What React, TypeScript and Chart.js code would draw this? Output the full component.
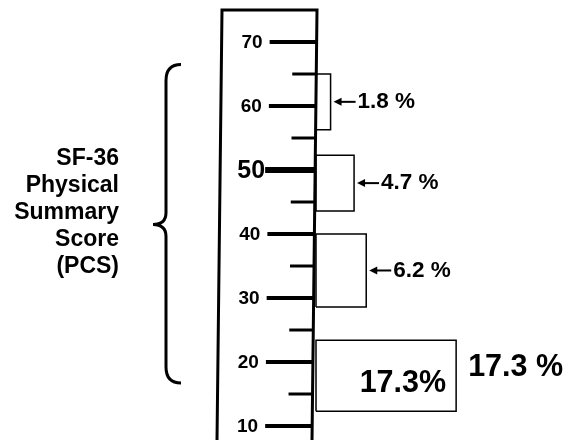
import React, { useEffect, useRef } from 'react';
import { Chart, registerables } from 'chart.js';

Chart.register(...registerables);

// ---- data ----
const boxLow = [56.3, 43.6, 28.6, 12.3];
const boxHigh = [65, 52.3, 40, 23.4];
const boxPct = [1.8, 4.7, 6.2, 17.3];
const boxLabelStyle = ['arrow', 'arrow', 'arrow', 'big'];
const majorTicks = [10, 20, 30, 40, 50, 60, 70];
const emphasisTick = 50;
const minorTicks = [15, 25, 35, 45, 55, 65];
const axisLabelLines = ['SF-36', 'Physical', 'Summary', 'Score', '(PCS)'];
const rulerTop = 75;
const braceRange = [66.5, 41.5, 16.7];

const FONT = '"Liberation Sans", Arial, sans-serif';

const rulerPlugin = {
  id: 'rulerPlugin',
  afterDraw(chart: any) {
    const { ctx } = chart;
    const ys = chart.scales.y;
    const xs = chart.scales.x;
    const H = chart.height;
    const topPx = ys.getPixelForValue(rulerTop);
    const x0 = xs.getPixelForValue(0);
    // slight slant of the scanned ruler
    const rightAt = (py: number) => x0 + 1 - (5 * (py - topPx)) / (H - topPx);
    const leftAt = (py: number) => x0 - 94 - (5 * (py - topPx)) / (H - topPx);

    ctx.save();
    ctx.strokeStyle = '#000';
    ctx.fillStyle = '#000';
    ctx.lineCap = 'butt';
    // ruler body
    ctx.lineWidth = 3;
    ctx.beginPath();
    ctx.moveTo(leftAt(H), H);
    ctx.lineTo(leftAt(topPx), topPx);
    ctx.lineTo(rightAt(topPx), topPx);
    ctx.lineTo(rightAt(H), H);
    ctx.stroke();

    // major ticks + labels
    majorTicks.forEach((v) => {
      const py = ys.getPixelForValue(v);
      const xr = rightAt(py);
      const big = v === emphasisTick;
      ctx.lineWidth = big ? 6 : 4;
      ctx.beginPath();
      ctx.moveTo(xr - (big ? 50 : 47), py);
      ctx.lineTo(xr, py);
      ctx.stroke();
      ctx.font = `bold ${big ? 25 : 19}px ${FONT}`;
      ctx.textAlign = 'right';
      ctx.textBaseline = 'middle';
      ctx.fillText(String(v), xr - (big ? 50 : 54), py + 1);
    });
    // minor ticks
    minorTicks.forEach((v) => {
      const py = ys.getPixelForValue(v);
      const xr = rightAt(py);
      ctx.lineWidth = 3;
      ctx.beginPath();
      ctx.moveTo(xr - 24, py);
      ctx.lineTo(xr, py);
      ctx.stroke();
    });

    // brace
    const [bt, bm, bb] = braceRange.map((v) => ys.getPixelForValue(v));
    const xTip = 153, xMain = 166, xEnd = 181;
    ctx.lineWidth = 3;
    ctx.beginPath();
    ctx.moveTo(xEnd, bt);
    ctx.quadraticCurveTo(xMain, bt, xMain, bt + 16);
    ctx.lineTo(xMain, bm - 12);
    ctx.quadraticCurveTo(xMain, bm, xTip, bm);
    ctx.quadraticCurveTo(xMain, bm, xMain, bm + 12);
    ctx.lineTo(xMain, bb - 16);
    ctx.quadraticCurveTo(xMain, bb, xEnd, bb);
    ctx.stroke();

    // axis title
    ctx.font = `bold 23px ${FONT}`;
    ctx.textAlign = 'right';
    ctx.textBaseline = 'middle';
    axisLabelLines.forEach((t, i) => {
      ctx.fillText(t, 119, 159 + i * 27);
    });

    // percent labels
    boxPct.forEach((p, i) => {
      const xr = xs.getPixelForValue(p);
      if (boxLabelStyle[i] === 'arrow') {
        const py = ys.getPixelForValue((boxLow[i] + boxHigh[i]) / 2);
        const tip = xr + 3;
        const tail = tip + 22;
        ctx.lineWidth = 2;
        ctx.beginPath();
        ctx.moveTo(tip + 5, py);
        ctx.lineTo(tail, py);
        ctx.stroke();
        ctx.beginPath();
        ctx.moveTo(tip, py);
        ctx.lineTo(tip + 8, py - 4);
        ctx.lineTo(tip + 8, py + 4);
        ctx.closePath();
        ctx.fill();
        ctx.font = `bold 22.5px ${FONT}`;
        ctx.textAlign = 'left';
        ctx.textBaseline = 'middle';
        ctx.fillText(`${p} %`, tail + 2, py);
      } else {
        const top = ys.getPixelForValue(boxHigh[i]);
        const bot = ys.getPixelForValue(boxLow[i]);
        ctx.font = `bold 30.5px ${FONT}`;
        ctx.textBaseline = 'alphabetic';
        ctx.textAlign = 'right';
        ctx.fillText(`${p}%`, xr - 10, bot - 19);
        ctx.textAlign = 'left';
        ctx.fillText(`${p} %`, xr + 12, top + 36);
      }
    });
    ctx.restore();
  },
};

export default function App() {
  const ref = useRef<HTMLCanvasElement>(null);
  useEffect(() => {
    if (!ref.current) return;
    const datasets = boxPct.map((p, i) => ({
      data: [
        { x: 0, y: boxLow[i] },
        { x: p, y: boxLow[i] },
        { x: p, y: boxHigh[i] },
        { x: 0, y: boxHigh[i] },
        { x: 0, y: boxLow[i] },
      ],
      borderColor: '#000',
      borderWidth: 1.5,
      pointRadius: 0,
      fill: false,
      tension: 0,
      showLine: true,
    }));
    const chart = new Chart(ref.current, {
      type: 'scatter',
      data: { datasets },
      options: {
        animation: false,
        responsive: false,
        devicePixelRatio: 1,
        layout: { padding: 0 },
        plugins: { legend: { display: false }, tooltip: { enabled: false } },
        scales: {
          x: { type: 'linear', display: false, min: -316 / 8.1, max: (563 - 316) / 8.1 },
          y: { type: 'linear', display: false, min: 7.8125, max: 76.5625 },
        },
      },
      plugins: [rulerPlugin],
    } as any);
    return () => chart.destroy();
  }, []);
  return (
    <div style={{ position: 'absolute', left: 0, top: 0, width: 563, height: 440, background: '#fff' }}>
      <canvas ref={ref} width={563} height={440} />
    </div>
  );
}
